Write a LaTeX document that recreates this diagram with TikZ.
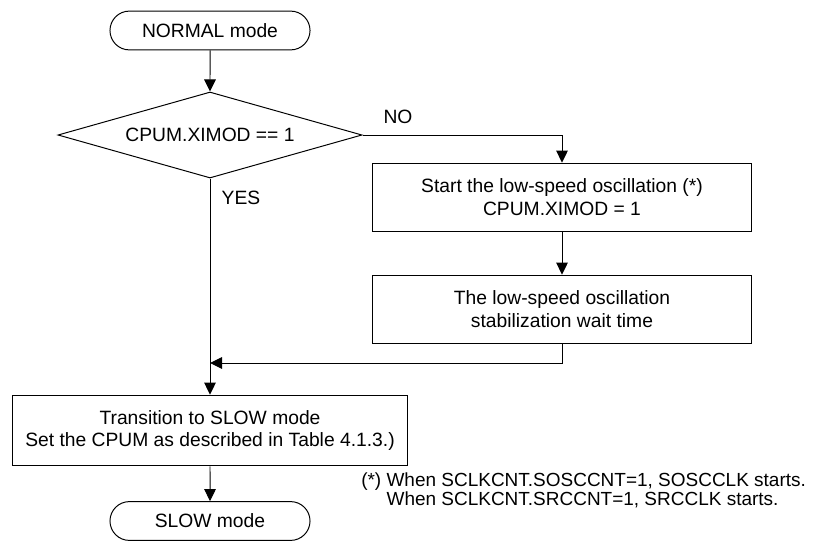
\documentclass[tikz,border=0pt]{standalone}
\usepackage{fontspec}
\setmainfont{Liberation Sans}
\usetikzlibrary{arrows.meta,positioning,shapes.geometric,shapes.misc}

\begin{document}
\begin{tikzpicture}[
    x=0.025cm, y=-0.025cm,
    font=\fontsize{13.7}{16.3}\selectfont,
    terminal/.style={draw, line width=0.7pt, rounded rectangle, minimum width=5cm, minimum height=0.97cm, inner sep=0pt},
    decision/.style={draw, line width=0.7pt, diamond, aspect=3.53, minimum width=7.6cm, minimum height=2.15cm, inner sep=0pt},
    process/.style={draw, line width=0.7pt, minimum width=9.45cm, minimum height=1.72cm, align=center, inner sep=0pt},
    flow/.style={-{Triangle[length=3mm, width=2.9mm]}, line width=0.7pt},
]
\useasboundingbox (0,0) rectangle (814,540);

\node[terminal] (normal) at (210, 30.5) {NORMAL mode};
\node[decision] (check) at (210, 135) {CPUM.XIMOD == 1};
\node[process] (start) at (562, 197.5) {Start the low-speed oscillation (*)\\CPUM.XIMOD = 1};
\node[process] (wait) at (562, 309.5) {The low-speed oscillation\\stabilization wait time};
\node[process, minimum width=9.85cm, minimum height=1.77cm] (trans) at (210, 430.5) {Transition to SLOW mode\\Set the CPUM as described in Table 4.1.3.)};
\node[terminal] (slow) at (210, 521) {SLOW mode};
\coordinate (merge) at (210, 363);

\node (no) at (398, 117) {NO};
\node (yes) at (241, 198) {YES};
\node[anchor=base west, align=left, inner sep=0pt, font=\fontsize{13.5}{13.2}\selectfont] (note) at (361, 505)
    {(*) When SCLKCNT.SOSCCNT=1, SOSCCLK starts.\\\phantom{(*) }When SCLKCNT.SRCCNT=1, SRCCLK starts.};

\draw[flow] (normal) -- (check);
\draw[flow] (check.east) -| (start.north);
\draw[flow] (start) -- (wait);
\draw[flow] (wait.south) |- (merge);
\draw[flow] (check.south) -- (trans.north);
\draw[flow] (trans) -- (slow);

\end{tikzpicture}
\end{document}
